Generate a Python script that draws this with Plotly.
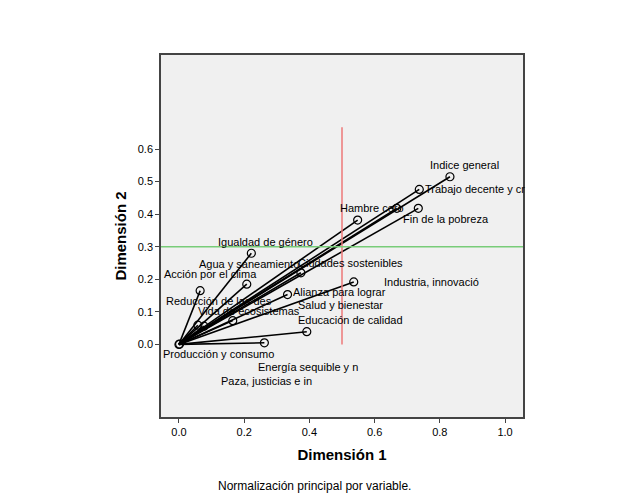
import plotly.graph_objects as go

# Saturaciones en componentes (dimensión 1, dimensión 2)
variables = [
    "Indice general", "Trabajo decente y crecimiento", "Fin de la pobreza",
    "Salud y bienestar", "Hambre cero", "Igualdad de género",
    "Ciudades sostenibles", "Agua y saneamiento", "Acción por el clima",
    "Industria, innovación", "Alianza para lograr", "Vida de ecosistemas",
    "Educación de calidad", "Energía asequible y no contaminante",
    "Reducción de las desigualdades", "Paza, justicias e instituciones",
    "Producción y consumo",
]
dim1 = [0.831, 0.737, 0.734, 0.668, 0.548, 0.222, 0.374, 0.208, 0.065,
        0.536, 0.333, 0.165, 0.392, 0.262, 0.058, 0.077, 0.002]
dim2 = [0.515, 0.476, 0.418, 0.418, 0.382, 0.280, 0.220, 0.185, 0.165,
        0.192, 0.153, 0.073, 0.039, 0.005, 0.059, 0.056, 0.001]

# Etiquetas tal como SPSS las coloca (texto truncado a 20 caracteres)
labels = [
    "Indice general", "Trabajo decente y cr", "Fin de la pobreza",
    "Hambre cero", "Igualdad de género", "Agua y saneamiento",
    "Ciudades sostenibles", "Acción por el clima", "Industria, innovació",
    "Alianza para lograr", "Reducción de las des", "Salud y bienestar",
    "Vida de ecosistemas", "Educación de calidad", "Producción y consumo",
    "Energía sequible y n", "Paza, justicias e in",
]
label_x = [0.765, 0.747, 0.681, 0.489, 0.113, 0.054, 0.359, -0.052, 0.624,
           0.344, -0.045, 0.359, 0.051, 0.358, -0.054, 0.235, 0.124]
label_y = [0.550, 0.476, 0.384, 0.418, 0.316, 0.247, 0.249, 0.215, 0.191,
           0.160, 0.133, 0.120, 0.102, 0.075, -0.028, -0.069, -0.111]

xticks = [0.0, 0.2, 0.4, 0.6, 0.8, 1.0]
yticks = [0.0, 0.1, 0.2, 0.3, 0.4, 0.5, 0.6]

# vectores desde el origen
vx, vy = [], []
for a, b in zip(dim1, dim2):
    vx += [0, a, None]
    vy += [0, b, None]

fig = go.Figure()
fig.add_trace(go.Scatter(x=vx, y=vy, mode="lines",
                         line=dict(color="black", width=1.6),
                         hoverinfo="skip", showlegend=False))
fig.add_trace(go.Scatter(x=[0] + dim1, y=[0] + dim2, mode="markers",
                         marker=dict(symbol="circle-open", size=8, color="black",
                                     line=dict(width=1.2)),
                         text=["origen"] + variables,
                         hovertemplate="%{text}<br>%{x:.3f}, %{y:.3f}<extra></extra>",
                         showlegend=False))

for t, lx, ly in zip(labels, label_x, label_y):
    fig.add_annotation(x=lx, y=ly, text=t, showarrow=False, xanchor="left",
                       yanchor="middle", font=dict(size=11, color="black"))

# líneas de referencia
fig.add_shape(type="line", x0=0.5, x1=0.5, y0=0, y1=0.667,
              line=dict(color="#ee7878", width=1.5))
fig.add_shape(type="line", xref="paper", x0=0, x1=1, y0=0.3, y1=0.3,
              line=dict(color="#78cc78", width=1.5))

fig.add_annotation(xref="paper", yref="paper", x=0.423, y=-0.19,
                   text="Normalización principal por variable.", showarrow=False,
                   font=dict(size=12, color="black"), yanchor="middle")

axis_common = dict(showgrid=False, zeroline=False, showline=True, mirror=True,
                   linecolor="#444444", linewidth=1.5, ticks="outside",
                   ticklen=4, tickcolor="#444444", tickformat=".1f",
                   tickfont=dict(size=11, color="black"))

fig.update_xaxes(range=[-0.055, 1.055], tickvals=xticks,
                 title=dict(text="<b>Dimensión 1</b>", font=dict(size=15), standoff=13),
                 **axis_common)
fig.update_yaxes(range=[-0.223, 0.889], tickvals=yticks,
                 title=dict(text="<b>Dimensión 2</b>", font=dict(size=15), standoff=8),
                 **axis_common)

fig.update_layout(
    width=621, height=496,
    margin=dict(l=153, r=106, t=47, b=87),
    paper_bgcolor="white", plot_bgcolor="#f0f0f0",
    font=dict(family="Liberation Sans, Arial, sans-serif", color="black"),
)

fig.write_html("out.html")
